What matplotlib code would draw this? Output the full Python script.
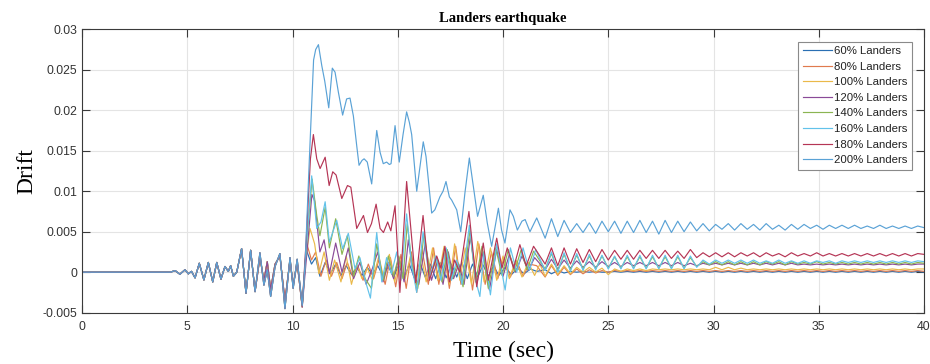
import numpy as np
import matplotlib
matplotlib.use("Agg")
import matplotlib.pyplot as plt

# ---- drift records (time in s, drift) ----
labels = ["60% Landers", "80% Landers", "100% Landers", "120% Landers",
          "140% Landers", "160% Landers", "180% Landers", "200% Landers"]
colors = ["#2a6fb3", "#e07a4e", "#eab94a", "#8a4a98",
          "#8bb552", "#62c2ea", "#b53555", "#5aa2d6"]

# quiet start and the early shaking, nearly common to every record
pre_t = [0.0, 4.2, 4.42, 4.65, 4.89, 5.05, 5.2, 5.37, 5.57, 5.79,
         6.0, 6.21, 6.4, 6.6, 6.79, 6.95, 7.06, 7.19, 7.35, 7.58,
         7.79, 8.01, 8.22, 8.45, 8.64, 8.8, 8.96, 9.17, 9.4, 9.64,
         9.88, 10.03, 10.22, 10.46]
pre_common = [0.0, 0.0, 0.0002, -0.00025, 0.0003, -0.0002, 0.0001, -0.0007, 0.0011, -0.00095,
              0.0012, -0.0012, 0.0012, -0.00086, 0.0007, 0.0001, 0.0008, -0.0005, 0.0, 0.0029,
              -0.0026, 0.0027, -0.0024]
pre_hi = [0.0024, -0.0016, 0.0003, -0.0030, 0.0007, 0.0023, -0.0045, 0.0018, -0.0020, 0.0016, -0.0041]
pre_lo = [0.0018, -0.0010, 0.0013, -0.0021, 0.0010, 0.0020, -0.0035, 0.0015, -0.0016, 0.0012, -0.0043]

# strong motion part
t_60 = [10.65, 10.9, 11.1, 11.3, 11.55, 11.8, 12.05, 12.3, 12.55, 12.8,
        13.05, 13.3, 13.55, 13.8, 14.05, 14.3, 14.55, 14.8, 15.05, 15.3,
        15.55, 15.8, 16.05, 16.3, 16.55, 16.8, 17.05, 17.3, 17.55, 17.8,
        18.05, 18.3, 18.55, 18.8, 19.05, 19.3, 19.55, 19.8, 20.1, 20.4,
        20.7, 21.0, 21.3, 21.6]
d_60 = [0.0028, 0.0010, 0.0018, -0.0005, 0.0012, -0.0002, 0.0010, -0.0004, 0.0008, -0.0003,
        0.0006, -0.0004, 0.0006, -0.0003, 0.0008, -0.0005, 0.0007, -0.0006, 0.0009, -0.0007,
        0.0010, -0.0008, 0.0012, -0.0006, 0.0010, -0.0008, 0.0012, -0.0007, 0.0010, -0.0006,
        0.0012, -0.0008, 0.0010, -0.0006, 0.0009, -0.0005, 0.0008, -0.0004, 0.0006, -0.0003,
        0.0005, -0.0002, 0.0004, 0.0001]

t_80 = [10.67, 10.9, 11.1, 11.35, 11.6, 11.85, 12.1, 12.35, 12.6, 12.85,
        13.1, 13.35, 13.6, 13.85, 14.1, 14.4, 14.65, 14.9, 15.15, 15.4,
        15.65, 15.9, 16.15, 16.45, 16.7, 16.95, 17.2, 17.45, 17.75, 18.0,
        18.3, 18.55, 18.85, 19.15, 19.45, 19.75, 20.05, 20.35, 20.65, 20.95,
        21.25, 21.6]
d_80 = [0.0036, 0.0015, 0.0025, -0.0005, 0.0015, -0.0005, 0.0012, -0.0008, 0.0012, -0.0005,
        0.0008, -0.0010, 0.0010, -0.0008, 0.0015, -0.0015, 0.0018, -0.0018, 0.0022, -0.0020,
        0.0025, -0.0025, 0.0028, -0.0015, 0.0030, -0.0015, 0.0025, -0.0020, 0.0032, -0.0015,
        0.0028, -0.0022, 0.0035, -0.0015, 0.0025, -0.0008, 0.0018, -0.0006, 0.0014, -0.0005,
        0.0010, 0.0008]

t_100 = [10.6, 10.83, 11.05, 11.25, 11.5, 11.75, 12.0, 12.3, 12.55, 12.8,
         13.05, 13.3, 13.55, 13.8, 14.1, 14.35, 14.6, 14.85, 15.1, 15.35,
         15.6, 15.85, 16.1, 16.35, 16.65, 16.9, 17.2, 17.45, 17.7, 17.95,
         18.2, 18.5, 18.8, 19.1, 19.4, 19.7, 20.0, 20.3, 20.6, 20.9,
         21.2, 21.5, 21.75]
d_100 = [0.0010, 0.0054, 0.0035, -0.0002, 0.0025, -0.0010, 0.0015, -0.0012, 0.0020, -0.0015,
         0.0010, -0.0008, 0.0005, -0.0010, 0.0020, -0.0010, 0.0022, -0.0012, 0.0015, -0.0008,
         0.0020, -0.0015, 0.0022, -0.0012, 0.0030, -0.0010, 0.0032, -0.0015, 0.0035, -0.0010,
         0.0030, -0.0015, 0.0038, -0.0012, 0.0030, -0.0010, 0.0020, -0.0008, 0.0015, -0.0006,
         0.0012, -0.0004, 0.0010]

t_120 = [10.65, 10.92, 11.05, 11.3, 11.5, 11.75, 12.05, 12.35, 12.65, 12.9,
         13.2, 13.5, 13.8, 14.05, 14.3, 14.55, 14.8, 15.05, 15.3, 15.5,
         15.75, 16.0, 16.3, 16.6, 16.9, 17.15, 17.4, 17.65, 17.9, 18.15,
         18.45, 18.75, 19.05, 19.35, 19.7, 20.0, 20.3, 20.6, 20.9, 21.2,
         21.5]
d_120 = [0.0015, 0.0096, 0.0088, 0.0025, 0.0040, -0.0002, 0.0036, 0.0000, 0.0030, -0.0008,
         0.0012, -0.0015, 0.0005, 0.0025, -0.0012, 0.0012, -0.0008, 0.0018, -0.0012, 0.0040,
         -0.0005, -0.0015, 0.0035, -0.0010, 0.0015, -0.0015, 0.0025, -0.0008, 0.0010, -0.0015,
         0.0045, -0.0015, 0.0025, -0.0022, 0.0028, -0.0005, 0.0022, 0.0000, 0.0020, 0.0002,
         0.0018]

t_140 = [10.65, 10.93, 11.15, 11.3, 11.55, 11.75, 12.05, 12.35, 12.6, 12.9,
         13.15, 13.45, 13.75, 14.0, 14.3, 14.55, 14.8, 15.05, 15.25, 15.45,
         15.7, 15.95, 16.25, 16.55, 16.85, 17.1, 17.35, 17.6, 17.85, 18.1,
         18.42, 18.7, 19.0, 19.3, 19.65, 19.95, 20.25, 20.55, 20.85, 21.15,
         21.45]
d_140 = [0.0030, 0.0115, 0.0070, 0.0045, 0.0080, 0.0030, 0.0066, 0.0022, 0.0045, -0.0005,
         0.0020, -0.0008, -0.0020, 0.0035, -0.0010, 0.0020, -0.0005, 0.0020, -0.0008, 0.0060,
         0.0005, -0.0020, 0.0048, -0.0005, 0.0018, -0.0012, 0.0028, -0.0008, 0.0012, -0.0018,
         0.0052, -0.0012, 0.0032, -0.0020, 0.0030, -0.0004, 0.0028, 0.0001, 0.0027, 0.0003,
         0.0026]

t_160 = [10.65, 10.91, 11.15, 11.35, 11.55, 11.75, 12.1, 12.38, 12.65, 12.97,
         13.2, 13.45, 13.7, 14.0, 14.24, 14.47, 14.7, 14.95, 15.15, 15.42,
         15.65, 15.9, 16.2, 16.5, 16.8, 17.05, 17.3, 17.55, 17.8, 18.05,
         18.4, 18.7, 18.9, 19.1, 19.4, 19.7, 20.1, 20.35, 20.65, 20.95,
         21.25, 21.55]
d_160 = [0.0030, 0.0119, 0.0054, 0.0062, 0.0087, 0.0037, 0.0064, 0.0029, 0.0048, 0.0004,
         0.0018, -0.0010, -0.0032, 0.0049, -0.0012, 0.0018, -0.0002, 0.0025, -0.0010, 0.0072,
         0.0010, -0.0025, 0.0050, -0.0008, 0.0020, -0.0010, 0.0030, -0.0010, 0.0015, -0.0015,
         0.0058, -0.0010, -0.0030, 0.0025, -0.0028, 0.0035, -0.0022, 0.0030, 0.0000, 0.0030,
         0.0002, 0.0028]

t_180 = [10.65, 10.85, 10.99, 11.15, 11.31, 11.55, 11.74, 11.91, 12.07, 12.34,
         12.61, 12.77, 13.05, 13.21, 13.37, 13.56, 13.75, 13.97, 14.16, 14.32,
         14.52, 14.67, 14.87, 15.1, 15.42, 15.6, 15.85, 16.2, 16.5, 16.85,
         17.05, 17.24, 17.45, 17.7, 17.95, 18.38, 18.6, 18.75, 19.06, 19.3,
         19.7, 19.95, 20.2, 20.5, 20.8, 21.1, 21.45]
d_180 = [0.0040, 0.0140, 0.0170, 0.0140, 0.0128, 0.0142, 0.0107, 0.0124, 0.0120, 0.0091,
         0.0107, 0.0105, 0.0054, 0.0062, 0.0070, 0.0049, 0.0060, 0.0084, 0.0054, 0.0049,
         0.0062, 0.0051, 0.0082, -0.0025, 0.0112, 0.0060, -0.0013, 0.0070, -0.0010, 0.0020,
         0.0005, 0.0032, -0.0012, 0.0015, 0.0000, 0.0075, 0.0020, -0.0018, 0.0036, -0.0010,
         0.0042, 0.0005, 0.0030, 0.0005, 0.0034, 0.0008, 0.0032]

t_200 = [10.6, 10.8, 11.0, 11.1, 11.23, 11.39, 11.53, 11.72, 11.89, 12.02,
         12.18, 12.38, 12.57, 12.73, 12.89, 13.05, 13.16, 13.3, 13.4, 13.55,
         13.76, 14.0, 14.16, 14.31, 14.47, 14.6, 14.68, 14.87, 15.07, 15.25,
         15.42, 15.55, 15.66, 15.9, 16.21, 16.34, 16.61, 16.76, 17.0, 17.15,
         17.29, 17.45, 17.56, 17.8, 17.99, 18.19, 18.4, 18.59, 18.79, 19.06,
         19.25, 19.46, 19.78, 19.93, 20.09, 20.33, 20.49, 20.68, 20.9, 21.05,
         21.28, 21.6]
d_200 = [0.0013, 0.0140, 0.0262, 0.0275, 0.0281, 0.0255, 0.0236, 0.0203, 0.0252, 0.0247,
         0.0222, 0.0194, 0.0214, 0.0215, 0.0193, 0.0156, 0.0132, 0.0138, 0.0140, 0.0136,
         0.0109, 0.0175, 0.0148, 0.0134, 0.0136, 0.0133, 0.0134, 0.0181, 0.0136, 0.0170,
         0.0198, 0.0185, 0.0170, 0.0100, 0.0161, 0.0143, 0.0073, 0.0077, 0.0093, 0.0100,
         0.0112, 0.0093, 0.0089, 0.0077, 0.0050, 0.0098, 0.0141, 0.0106, 0.0069, 0.0095,
         0.0061, 0.0032, 0.0079, 0.0052, 0.0036, 0.0077, 0.0069, 0.0052, 0.0063, 0.0065,
         0.0050, 0.0067]

# free vibration after 22 s, sampled every 0.3 s
tail_t = np.round(np.arange(22.0, 40.01, 0.3), 2)
tail_60 = [0.0003, -0.0002, 0.0002, -0.0001, 0.0001, 0.0000, 0.0001, 0.0000, 0.0001, 0.0000,
           0.0000, 0.0001, 0.0000, 0.0001, 0.0000, 0.0001, 0.0000, 0.0001, 0.0000, 0.0001,
           0.0000, 0.0001, 0.0000, 0.0001, 0.0000, 0.0001, 0.0000, 0.0001, 0.0000, 0.0001,
           0.0000, 0.0001, 0.0000, 0.0001, 0.0000, 0.0001, 0.0000, 0.0001, 0.0000, 0.0001,
           0.0000, 0.0001, 0.0000, 0.0001, 0.0000, 0.0001, 0.0000, 0.0001, 0.0000, 0.0001,
           0.0000, 0.0001, 0.0000, 0.0001, 0.0000, 0.0001, 0.0000, 0.0001, 0.0000, 0.0001,
           0.0000]
tail_80 = [-0.0006, 0.0008, -0.0004, 0.0006, -0.0003, 0.0004, -0.0002, 0.0003, -0.0001, 0.0002,
           0.0000, 0.0002, 0.0001, 0.0002, 0.0001, 0.0002, 0.0001, 0.0002, 0.0001, 0.0002,
           0.0001, 0.0002, 0.0001, 0.0002, 0.0001, 0.0002, 0.0001, 0.0002, 0.0001, 0.0002,
           0.0001, 0.0002, 0.0001, 0.0002, 0.0001, 0.0002, 0.0001, 0.0002, 0.0001, 0.0002,
           0.0001, 0.0002, 0.0001, 0.0002, 0.0001, 0.0002, 0.0001, 0.0002, 0.0001, 0.0002,
           0.0001, 0.0002, 0.0001, 0.0002, 0.0001, 0.0002, 0.0001, 0.0002, 0.0001, 0.0002,
           0.0001]
tail_100 = [-0.0005, 0.0010, -0.0003, 0.0008, -0.0002, 0.0006, 0.0000, 0.0006, 0.0000, 0.0005,
            -0.0003, 0.0004, 0.0001, 0.0004, 0.0002, 0.0004, 0.0002, 0.0004, 0.0003, 0.0004,
            0.0003, 0.0004, 0.0003, 0.0004, 0.0003, 0.0004, 0.0003, 0.0006, 0.0003, 0.0006,
            0.0003, 0.0005, 0.0003, 0.0004, 0.0003, 0.0004, 0.0003, 0.0004, 0.0003, 0.0004,
            0.0003, 0.0004, 0.0003, 0.0004, 0.0003, 0.0004, 0.0003, 0.0004, 0.0003, 0.0004,
            0.0003, 0.0004, 0.0003, 0.0004, 0.0003, 0.0004, 0.0003, 0.0004, 0.0003, 0.0004,
            0.0004]
tail_120 = [0.0003, 0.0016, 0.0004, 0.0015, 0.0005, 0.0014, 0.0006, 0.0013, 0.0006, 0.0013,
            0.0007, 0.0012, 0.0007, 0.0012, 0.0008, 0.0012, 0.0008, 0.0012, 0.0008, 0.0012,
            0.0008, 0.0012, 0.0008, 0.0011, 0.0008, 0.0011, 0.0009, 0.0011, 0.0009, 0.0011,
            0.0009, 0.0011, 0.0009, 0.0011, 0.0009, 0.0011, 0.0009, 0.0011, 0.0009, 0.0011,
            0.0009, 0.0010, 0.0009, 0.0010, 0.0009, 0.0010, 0.0009, 0.0010, 0.0009, 0.0010,
            0.0009, 0.0010, 0.0009, 0.0010, 0.0009, 0.0010, 0.0009, 0.0010, 0.0009, 0.0010,
            0.0010]
tail_140 = [0.0004, 0.0023, 0.0002, 0.0022, 0.0003, 0.0021, 0.0004, 0.0020, 0.0004, 0.0020,
            0.0005, 0.0019, 0.0005, 0.0019, 0.0005, 0.0019, 0.0005, 0.0019, 0.0005, 0.0019,
            0.0005, 0.0019, 0.0005, 0.0018, 0.0007, 0.0013, 0.0009, 0.0013, 0.0009, 0.0013,
            0.0009, 0.0013, 0.0009, 0.0013, 0.0009, 0.0013, 0.0010, 0.0013, 0.0009, 0.0013,
            0.0010, 0.0012, 0.0010, 0.0013, 0.0010, 0.0012, 0.0010, 0.0012, 0.0010, 0.0012,
            0.0010, 0.0012, 0.0010, 0.0012, 0.0010, 0.0012, 0.0010, 0.0012, 0.0010, 0.0012,
            0.0011]
tail_160 = [0.0002, 0.0025, 0.0000, 0.0024, 0.0001, 0.0023, 0.0002, 0.0022, 0.0003, 0.0021,
            0.0004, 0.0020, 0.0004, 0.0021, 0.0004, 0.0021, 0.0004, 0.0021, 0.0004, 0.0021,
            0.0004, 0.0021, 0.0004, 0.0020, 0.0006, 0.0015, 0.0010, 0.0015, 0.0011, 0.0015,
            0.0011, 0.0015, 0.0011, 0.0015, 0.0011, 0.0014, 0.0011, 0.0015, 0.0011, 0.0014,
            0.0011, 0.0014, 0.0011, 0.0014, 0.0012, 0.0014, 0.0011, 0.0014, 0.0012, 0.0014,
            0.0012, 0.0014, 0.0012, 0.0014, 0.0012, 0.0014, 0.0012, 0.0014, 0.0012, 0.0014,
            0.0013]
tail_180 = [0.0010, 0.0030, 0.0008, 0.0030, 0.0010, 0.0029, 0.0012, 0.0028, 0.0013, 0.0028,
            0.0015, 0.0027, 0.0016, 0.0027, 0.0016, 0.0027, 0.0017, 0.0027, 0.0017, 0.0027,
            0.0017, 0.0026, 0.0017, 0.0028, 0.0018, 0.0024, 0.0019, 0.0024, 0.0019, 0.0024,
            0.0019, 0.0024, 0.0020, 0.0024, 0.0019, 0.0024, 0.0020, 0.0023, 0.0019, 0.0024,
            0.0020, 0.0023, 0.0020, 0.0024, 0.0020, 0.0023, 0.0020, 0.0023, 0.0020, 0.0023,
            0.0020, 0.0023, 0.0020, 0.0023, 0.0020, 0.0023, 0.0020, 0.0023, 0.0020, 0.0023,
            0.0022]
tail_200 = [0.0042, 0.0066, 0.0044, 0.0064, 0.0049, 0.0060, 0.0049, 0.0061, 0.0048, 0.0063,
            0.0050, 0.0063, 0.0048, 0.0063, 0.0049, 0.0064, 0.0049, 0.0063, 0.0047, 0.0064,
            0.0049, 0.0063, 0.0050, 0.0062, 0.0051, 0.0060, 0.0051, 0.0059, 0.0053, 0.0060,
            0.0052, 0.0060, 0.0053, 0.0059, 0.0052, 0.0060, 0.0053, 0.0058, 0.0052, 0.0059,
            0.0053, 0.0059, 0.0054, 0.0058, 0.0053, 0.0058, 0.0054, 0.0058, 0.0054, 0.0058,
            0.0054, 0.0057, 0.0054, 0.0058, 0.0054, 0.0057, 0.0054, 0.0057, 0.0054, 0.0057,
            0.0055]

records = [
    (pre_lo, t_60, d_60, tail_60),
    (pre_lo, t_80, d_80, tail_80),
    (pre_lo, t_100, d_100, tail_100),
    (pre_lo, t_120, d_120, tail_120),
    (pre_hi, t_140, d_140, tail_140),
    (pre_hi, t_160, d_160, tail_160),
    (pre_hi, t_180, d_180, tail_180),
    (pre_hi, t_200, d_200, tail_200),
]

sans = ["Liberation Sans", "DejaVu Sans"]
serif = ["Liberation Serif", "DejaVu Serif"]

fig = plt.figure(figsize=(9.3, 3.64), dpi=100)
ax = fig.add_axes([0.0882, 0.141, 0.9054, 0.7786])

for (pre, t_mid, d_mid, d_tail), lab, col in zip(records, labels, colors):
    t = np.concatenate([pre_t, t_mid, tail_t])
    d = np.concatenate([pre_common, pre, d_mid, d_tail])
    ax.plot(t, d, color=col, lw=0.85, label=lab)

ax.set_xlim(0, 40)
ax.set_ylim(-0.005, 0.03)
ax.set_xticks(np.arange(0, 41, 5))
ax.set_yticks([-0.005, 0, 0.005, 0.01, 0.015, 0.02, 0.025, 0.03])
ax.set_yticklabels(["-0.005", "0", "0.005", "0.01", "0.015", "0.02", "0.025", "0.03"])

ax.grid(True, color="#e4e4e4", lw=0.8)
ax.set_axisbelow(True)
for s in ax.spines.values():
    s.set_color("#3a3a3a")
    s.set_linewidth(0.8)
ax.tick_params(axis="both", direction="in", length=6, width=0.8, color="#3a3a3a",
               top=True, right=True, labelsize=8.8, labelcolor="#333333")
ax.tick_params(axis="x", pad=6)
ax.tick_params(axis="y", pad=3.5)
for lbl in ax.get_xticklabels() + ax.get_yticklabels():
    lbl.set_family(sans)

ax.set_title("Landers earthquake", family=serif, fontsize=10.5, fontweight="bold", pad=5)
ax.set_xlabel("Time (sec)", family=serif, fontsize=17, labelpad=6)
ax.set_ylabel("Drift", family=serif, fontsize=17, labelpad=3.5)

leg = ax.legend(loc="upper right", bbox_to_anchor=(0.9857, 0.9566), borderaxespad=0,
                prop={"family": sans, "size": 8.2}, handlelength=2.6, handletextpad=0.15,
                labelspacing=0.49, borderpad=0.4, fancybox=False, framealpha=1)
leg.get_frame().set_edgecolor("#8a8a8a")
leg.get_frame().set_linewidth(0.8)
for txt in leg.get_texts():
    txt.set_color("#222222")

fig.savefig("out.png", dpi=100)
